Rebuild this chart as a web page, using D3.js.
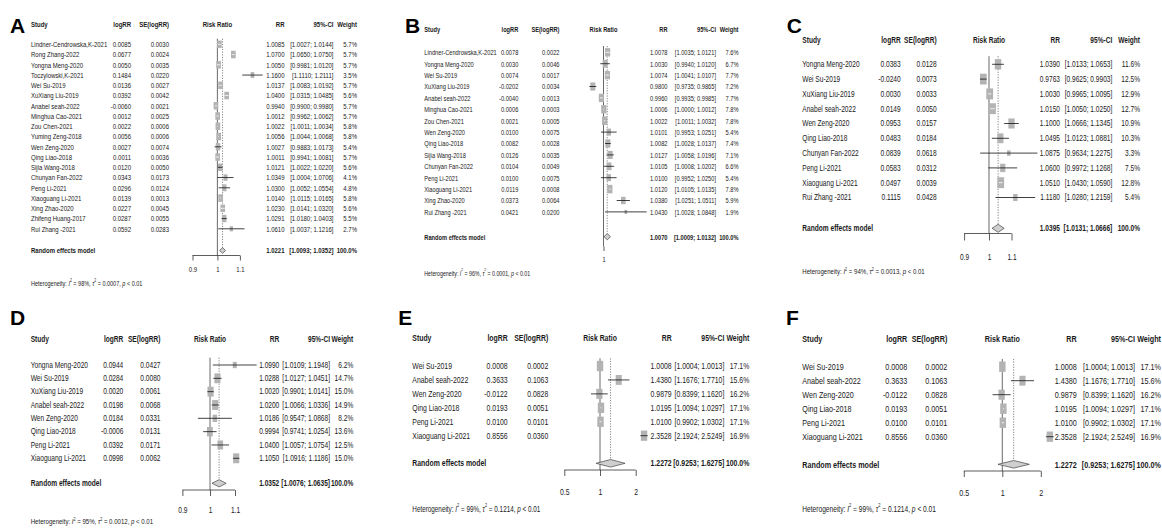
<!DOCTYPE html>
<html>
<head>
<meta charset="utf-8">
<script src="https://cdn.jsdelivr.net/npm/d3@7"></script>
<style>
  html, body { margin: 0; padding: 0; background: #fff; }
  svg { display: block; font-family: "Liberation Sans", Arial, sans-serif; }
</style>
</head>
<body>
<svg id="chart" width="1162" height="529"></svg>
<script>
// ---------- Panel A ----------
const studiesA = ["Lindner-Cendrowska,K-2021","Rong Zhang-2022","Yongna Meng-2020","Toczylowski,K-2021","Wei Su-2019","XuXiang Liu-2019","Anabel seah-2022","Minghua Cao-2021","Zou Chen-2021","Yuming Zeng-2018","Wen Zeng-2020","Qing Liao-2018","Sijia Wang-2018","Chunyan Fan-2022","Peng Li-2021","Xiaoguang Li-2021","Xing Zhao-2020","Zhifeng Huang-2017","Rui Zhang -2021"];
const logRRA = [0.0085,0.0677,0.0050,0.1484,0.0136,0.0392,-0.0060,0.0012,0.0022,0.0056,0.0027,0.0011,0.0120,0.0343,0.0296,0.0139,0.0227,0.0287,0.0592];
const seA = [0.0030,0.0024,0.0035,0.0220,0.0027,0.0042,0.0021,0.0025,0.0006,0.0006,0.0074,0.0036,0.0050,0.0173,0.0124,0.0013,0.0045,0.0055,0.0283];
const rrA = [1.0085,1.0700,1.0050,1.1600,1.0137,1.0400,0.9940,1.0012,1.0022,1.0056,1.0027,1.0011,1.0121,1.0349,1.0300,1.0140,1.0230,1.0291,1.0610];
const loA = [1.0027,1.0650,0.9981,1.1110,1.0083,1.0315,0.9900,0.9962,1.0011,1.0044,0.9883,0.9941,1.0022,1.0004,1.0052,1.0115,1.0141,1.0180,1.0037];
const hiA = [1.0144,1.0750,1.0120,1.2111,1.0192,1.0485,0.9980,1.0062,1.0034,1.0068,1.0173,1.0081,1.0220,1.0706,1.0554,1.0165,1.0320,1.0403,1.1216];
const weightA = [5.7,5.7,5.7,3.5,5.7,5.6,5.7,5.7,5.8,5.8,5.4,5.7,5.6,4.1,4.8,5.8,5.6,5.5,2.7];
const ticksA = [0.9, 1, 1.1];

// ---------- Panel B ----------
const studiesB = ["Lindner-Cendrowska,K-2021","Yongna Meng-2020","Wei Su-2019","XuXiang Liu-2019","Anabel seah-2022","Minghua Cao-2021","Zou Chen-2021","Wen Zeng-2020","Qing Liao-2018","Sijia Wang-2018","Chunyan Fan-2022","Peng Li-2021","Xiaoguang Li-2021","Xing Zhao-2020","Rui Zhang -2021"];
const logRRB = [0.0078,0.0030,0.0074,-0.0202,-0.0040,0.0006,0.0021,0.0100,0.0082,0.0126,0.0104,0.0100,0.0119,0.0373,0.0421];
const seB = [0.0022,0.0046,0.0017,0.0034,0.0013,0.0003,0.0005,0.0075,0.0028,0.0035,0.0049,0.0075,0.0008,0.0064,0.0200];
const rrB = [1.0078,1.0030,1.0074,0.9800,0.9960,1.0006,1.0022,1.0101,1.0082,1.0127,1.0105,1.0100,1.0120,1.0380,1.0430];
const loB = [1.0035,0.9940,1.0041,0.9735,0.9935,1.0000,1.0011,0.9953,1.0028,1.0058,1.0008,0.9952,1.0105,1.0251,1.0028];
const hiB = [1.0121,1.0120,1.0107,0.9865,0.9985,1.0012,1.0032,1.0251,1.0137,1.0196,1.0202,1.0250,1.0135,1.0511,1.0848];
const weightB = [7.6,6.7,7.7,7.2,7.7,7.8,7.8,5.4,7.4,7.1,6.6,5.4,7.8,5.9,1.9];
const ticksB = [1];

// ---------- Panel C ----------
const studiesC = ["Yongna Meng-2020","Wei Su-2019","XuXiang Liu-2019","Anabel seah-2022","Wen Zeng-2020","Qing Liao-2018","Chunyan Fan-2022","Peng Li-2021","Xiaoguang Li-2021","Rui Zhang -2021"];
const logRRC = [0.0383,-0.0240,0.0030,0.0149,0.0953,0.0483,0.0839,0.0583,0.0497,0.1115];
const seC = [0.0128,0.0073,0.0033,0.0050,0.0157,0.0184,0.0618,0.0312,0.0039,0.0428];
const rrC = [1.0390,0.9763,1.0030,1.0150,1.1000,1.0495,1.0875,1.0600,1.0510,1.1180];
const loC = [1.0133,0.9625,0.9965,1.0050,1.0666,1.0123,0.9634,0.9972,1.0430,1.0280];
const hiC = [1.0653,0.9903,1.0095,1.0250,1.1345,1.0881,1.2275,1.1268,1.0590,1.2159];
const weightC = [11.6,12.5,12.9,12.7,10.9,10.3,3.3,7.5,12.8,5.4];
const ticksC = [0.9, 1, 1.1];

// ---------- Panel D ----------
const studiesD = ["Yongna Meng-2020","Wei Su-2019","XuXiang Liu-2019","Anabel seah-2022","Wen Zeng-2020","Qing Liao-2018","Peng Li-2021","Xiaoguang Li-2021"];
const logRRD = [0.0944,0.0284,0.0020,0.0198,0.0184,-0.0006,0.0392,0.0998];
const seD = [0.0427,0.0080,0.0061,0.0068,0.0331,0.0131,0.0171,0.0062];
const rrD = [1.0990,1.0288,1.0020,1.0200,1.0186,0.9994,1.0400,1.1050];
const loD = [1.0109,1.0127,0.9901,1.0066,0.9547,0.9741,1.0057,1.0916];
const hiD = [1.1948,1.0451,1.0141,1.0336,1.0868,1.0254,1.0754,1.1186];
const weightD = [6.2,14.7,15.0,14.9,8.2,13.6,12.5,15.0];
const ticksD = [0.9, 1, 1.1];

// ---------- Panels E and F (same studies) ----------
const studiesE = ["Wei Su-2019","Anabel seah-2022","Wen Zeng-2020","Qing Liao-2018","Peng Li-2021","Xiaoguang Li-2021"];
const logRRE = [0.0008,0.3633,-0.0122,0.0193,0.0100,0.8556];
const seE = [0.0002,0.1063,0.0828,0.0051,0.0101,0.0360];
const rrE = [1.0008,1.4380,0.9879,1.0195,1.0100,2.3528];
const loE = [1.0004,1.1676,0.8399,1.0094,0.9902,2.1924];
const hiE = [1.0013,1.7710,1.1620,1.0297,1.0302,2.5249];
const weightE = [17.1,15.6,16.2,17.1,17.1,16.9];
const ticksE = [0.5, 1, 2];

// ---------- Random effects summaries (A..F) ----------
const pooledRR = [1.0221, 1.0070, 1.0395, 1.0352, 1.2272, 1.2272];
const pooledLo = [1.0093, 1.0009, 1.0131, 1.0076, 0.9253, 0.9253];
const pooledHi = [1.0352, 1.0132, 1.0666, 1.0635, 1.6275, 1.6275];
const hetI2 = ["98%", "96%", "94%", "95%", "99%", "99%"];
const hetTau2 = ["0.0007", "0.0001", "0.0013", "0.0012", "0.1214", "0.1214"];

// ---------- Layout of each panel ----------
const layouts = [
  { letter:"A", lx:10,    ly:33,   fs:8.0, yHead:24,    y0:44.3,  sp:10.25, yRand:250.5, yAxis:255.5, tick:5,   yLab:269,   yHet:282.7,
    cStudy:31,    cLog:131,   cSe:169,   cRR:284.5,  cCI:333.5,  cW:357,    dom:[0.9,1.1],   rng:[192.5,239.9] },
  { letter:"B", lx:405,   ly:33.3, fs:7.6, yHead:29.5,  y0:52.3,  sp:11.4,  yRand:236.7, yAxis:246.5, tick:4.5, yLab:259.5, yHet:273,
    cStudy:424.3, cLog:518.3, cSe:559.5, cRR:667.5,  cCI:716,    cW:738.5,  dom:[0.98,1.04], rng:[592.8,624.3] },
  { letter:"C", lx:786.7, ly:33.3, fs:8.8, yHead:40,    y0:64.3,  sp:14.8,  yRand:228.3, yAxis:233.5, tick:7,   yLab:256.7, yHet:271.5,
    cStudy:802.3, cLog:900.7, cSe:936.7, cRR:1060,   cCI:1112.3, cW:1140,   dom:[0.9,1.1],   rng:[964.1,1011.5] },
  { letter:"D", lx:10,    ly:325,  fs:8.8, yHead:339.3, y0:365,   sp:13.33, yRand:483.3, yAxis:490,   tick:6,   yLab:510,   yHet:521.7,
    cStudy:30.7,  cLog:123.3, cSe:160.5, cRR:279.3,  cCI:330,    cW:353.3,  dom:[0.9,1.1],   rng:[182.4,235.0] },
  { letter:"E", lx:398.3, ly:325,  fs:9.2, yHead:338.3, y0:366,   sp:13.94, yRand:463.3, yAxis:470,   tick:6,   yLab:491.7, yHet:508.3,
    cStudy:412.3, cLog:507.7, cSe:548.3, cRR:671.7,  cCI:724.3,  cW:749.3,  dom:[0.5,2],     rng:[564.3,635.7] },
  { letter:"F", lx:786,   ly:325,  fs:9.6, yHead:338.3, y0:366.7, sp:14,    yRand:464.3, yAxis:471,   tick:6,   yLab:492.7, yHet:508.3,
    cStudy:802.3, cLog:907.3, cSe:947.3, cRR:1076.7, cCI:1135,   cW:1161,   dom:[0.5,2],     rng:[963.8,1040.8] }
];

const panelData = [
  { studies:studiesA, logRR:logRRA, se:seA, rr:rrA, lo:loA, hi:hiA, w:weightA, ticks:ticksA },
  { studies:studiesB, logRR:logRRB, se:seB, rr:rrB, lo:loB, hi:hiB, w:weightB, ticks:ticksB },
  { studies:studiesC, logRR:logRRC, se:seC, rr:rrC, lo:loC, hi:hiC, w:weightC, ticks:ticksC },
  { studies:studiesD, logRR:logRRD, se:seD, rr:rrD, lo:loD, hi:hiD, w:weightD, ticks:ticksD },
  { studies:studiesE, logRR:logRRE, se:seE, rr:rrE, lo:loE, hi:hiE, w:weightE, ticks:ticksE },
  { studies:studiesE, logRR:logRRE, se:seE, rr:rrE, lo:loE, hi:hiE, w:weightE, ticks:ticksE }
];

const SX = 0.75;          // horizontal condensing of all table text
const INK = "#1a1a1a";
const BOX = "#b3b3b3";
const f4 = v => v.toFixed(4);
const svg = d3.select("#chart");

function drawPanel(p, d, k) {
  const g = svg.append("g");

  const txt = (x, y, s, o = {}) => g.append("text")
    .attr("transform", `translate(${x},${y}) scale(${SX},1)`)
    .attr("font-size", o.size || p.fs)
    .attr("font-weight", o.bold ? "bold" : null)
    .attr("text-anchor", o.anchor || "start")
    .attr("dominant-baseline", "central")
    .attr("fill", INK)
    .text(s);

  // panel letter
  g.append("text")
    .attr("x", p.lx).attr("y", p.ly)
    .attr("font-size", 21).attr("font-weight", "bold").attr("fill", "#000")
    .text(p.letter);

  const x = d3.scaleLog().domain(p.dom).range(p.rng);
  const y = d3.scalePoint().domain(d3.range(d.studies.length))
    .range([p.y0, p.y0 + p.sp * (d.studies.length - 1)]);
  const x1 = x(1);

  // header
  txt(p.cStudy, p.yHead, "Study", { bold: true });
  txt(p.cLog, p.yHead, "logRR", { bold: true, anchor: "end" });
  txt(p.cSe, p.yHead, "SE(logRR)", { bold: true, anchor: "end" });
  txt(x1, p.yHead, "Risk Ratio", { bold: true, anchor: "middle" });
  txt(p.cRR, p.yHead, "RR", { bold: true, anchor: "end" });
  txt(p.cCI, p.yHead, "95%-CI", { bold: true, anchor: "end" });
  txt(p.cW, p.yHead, "Weight", { bold: true, anchor: "end" });

  const yTop = y(0) - p.sp * 0.55;
  const dh = p.sp * 0.27;

  // reference line at RR = 1, down to the axis
  g.append("line")
    .attr("x1", x1).attr("x2", x1).attr("y1", yTop).attr("y2", p.yAxis)
    .attr("stroke", "#444").attr("stroke-width", 0.8);

  // dotted line at the pooled estimate
  g.append("line")
    .attr("x1", x(pooledRR[k])).attr("x2", x(pooledRR[k]))
    .attr("y1", yTop).attr("y2", p.yRand - dh)
    .attr("stroke", "#666").attr("stroke-width", 0.8)
    .attr("stroke-dasharray", "1.2,1.4");

  // study rows
  const wmax = d3.max(d.w);
  d.studies.forEach((s, i) => {
    const yi = y(i);
    txt(p.cStudy, yi, s);
    txt(p.cLog, yi, f4(d.logRR[i]), { anchor: "end" });
    txt(p.cSe, yi, f4(d.se[i]), { anchor: "end" });
    txt(p.cRR, yi, f4(d.rr[i]), { anchor: "end" });
    txt(p.cCI, yi, `[${f4(d.lo[i])}; ${f4(d.hi[i])}]`, { anchor: "end" });
    txt(p.cW, yi, d.w[i].toFixed(1) + "%", { anchor: "end" });

    const bh = 0.74 * p.sp * Math.sqrt(d.w[i] / wmax);
    const bw = bh * 0.62;
    const cx = x(d.rr[i]);
    g.append("rect")
      .attr("x", cx - bw / 2).attr("y", yi - bh / 2)
      .attr("width", bw).attr("height", bh)
      .attr("fill", BOX);
    const xl = x(d.lo[i]), xh = x(d.hi[i]);
    const inside = xl >= cx - bw / 2 && xh <= cx + bw / 2;
    g.append("line")
      .attr("x1", xl).attr("x2", xh).attr("y1", yi).attr("y2", yi)
      .attr("stroke", inside ? "#fff" : "#111").attr("stroke-width", 0.8);
  });

  // random effects row
  txt(p.cStudy, p.yRand, "Random effects model", { bold: true });
  txt(p.cRR, p.yRand, f4(pooledRR[k]), { bold: true, anchor: "end" });
  txt(p.cCI, p.yRand, `[${f4(pooledLo[k])}; ${f4(pooledHi[k])}]`, { bold: true, anchor: "end" });
  txt(p.cW, p.yRand, "100.0%", { bold: true, anchor: "end" });

  const xe = x(pooledRR[k]), xl = x(pooledLo[k]), xh = x(pooledHi[k]);
  g.append("path")
    .attr("d", d3.line()([[xl, p.yRand], [xe, p.yRand - dh], [xh, p.yRand], [xe, p.yRand + dh], [xl, p.yRand]]))
    .attr("fill", "#cfcfcf").attr("stroke", "#444").attr("stroke-width", 0.7);

  // axis
  const ax = g.append("g")
    .attr("transform", `translate(0,${p.yAxis})`)
    .call(d3.axisBottom(x).tickValues(d.ticks).tickFormat(v => String(v))
      .tickSize(p.tick).tickSizeOuter(0));
  ax.select(".domain").remove();
  if (d.ticks.length > 1) {
    ax.append("line")
      .attr("x1", x(d.ticks[0])).attr("x2", x(d.ticks[d.ticks.length - 1]))
      .attr("stroke", "#333").attr("stroke-width", 0.8);
  }
  ax.selectAll(".tick line").attr("stroke", "#333").attr("stroke-width", 0.8);
  ax.selectAll(".tick text")
    .attr("y", p.yLab - p.yAxis).attr("dy", null)
    .attr("dominant-baseline", "central")
    .attr("transform", `scale(${SX},1)`)
    .attr("font-family", "Liberation Sans, Arial, sans-serif")
    .attr("font-size", p.fs).attr("fill", INK);

  // heterogeneity line
  const hs = p.fs * 0.92;
  const het = txt(p.cStudy, p.yHet, "", { size: hs });
  het.append("tspan").text("Heterogeneity: ");
  het.append("tspan").attr("font-style", "italic").text("I");
  het.append("tspan").attr("font-size", hs * 0.6).attr("dy", -hs * 0.4).text("2");
  het.append("tspan").attr("dy", hs * 0.4).text(` = ${hetI2[k]}, `);
  het.append("tspan").attr("font-style", "italic").text("\u03C4");
  het.append("tspan").attr("font-size", hs * 0.6).attr("dy", -hs * 0.4).text("2");
  het.append("tspan").attr("dy", hs * 0.4).text(` = ${hetTau2[k]}, `);
  het.append("tspan").attr("font-style", "italic").text("p");
  het.append("tspan").text(" < 0.01");
}

layouts.forEach((p, k) => drawPanel(p, panelData[k], k));
</script>
</body>
</html>
